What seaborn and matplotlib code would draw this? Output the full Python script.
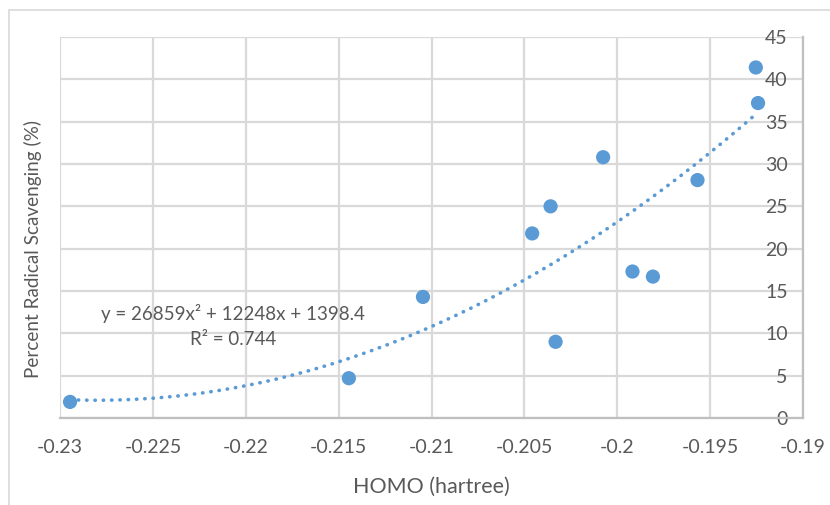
import numpy as np
import pandas as pd
import matplotlib
matplotlib.use("Agg")
import matplotlib.pyplot as plt
from matplotlib.patches import Rectangle
import seaborn as sns

# HOMO energies (hartree) and measured radical scavenging (%)
homo = [-0.22946, -0.21445, -0.21046, -0.20458, -0.20359, -0.20332,
        -0.20076, -0.19918, -0.19808, -0.19568, -0.19254, -0.19242]
scavenging = [1.9, 4.7, 14.3, 21.8, 25.0, 9.0,
              30.8, 17.3, 16.7, 28.1, 41.4, 37.2]

# Second-order polynomial trendline coefficients (a, b, c) and fit quality
trend_coef = [26859, 12248, 1398.4]
r_squared = 0.744

x_ticks = [-0.23, -0.225, -0.22, -0.215, -0.21, -0.205, -0.2, -0.195, -0.19]
x_tick_labels = ["-0.23", "-0.225", "-0.22", "-0.215", "-0.21", "-0.205", "-0.2", "-0.195", "-0.19"]
y_ticks = [0, 5, 10, 15, 20, 25, 30, 35, 40, 45]

df = pd.DataFrame({"HOMO": homo, "Scavenging": scavenging})

sns.set_theme(style="white")
plt.rcParams["font.family"] = ["Lato", "DejaVu Sans"]

text_color = "#595959"
grid_color = "#d9d9d9"
blue = "#5B9BD5"

fig = plt.figure(figsize=(8.3, 5.05), dpi=100)
fig.patch.set_facecolor("white")
ax = fig.add_axes([60 / 830, 87 / 505, 743 / 830, 381 / 505])

# outer chart frame
fig.add_artist(Rectangle((9 / 830, -0.05), 1.2, (505 - 10) / 505 + 0.05,
                         transform=fig.transFigure, fill=False,
                         edgecolor="#d9d9d9", linewidth=1.2, zorder=0))

# trendline from the stated polynomial
xs = np.linspace(min(homo), max(homo), 300)
ys = np.polyval(trend_coef, xs)
ax.plot(xs, ys, linestyle=(0, (0.1, 2.2)), dash_capstyle="round",
        color=blue, linewidth=2.6, zorder=2)

sns.scatterplot(data=df, x="HOMO", y="Scavenging", ax=ax, s=105,
                color=blue, edgecolor="none", linewidth=0, zorder=3)

ax.set_xlim(-0.23, -0.19)
ax.set_ylim(0, 45)
ax.set_xticks(x_ticks)
ax.set_xticklabels(x_tick_labels)
ax.set_yticks(y_ticks)

ax.grid(True, color=grid_color, linewidth=1.6, zorder=0)
ax.set_axisbelow(True)
for side in ["top", "left"]:
    ax.spines[side].set_visible(False)
ax.spines["bottom"].set_color("#bfbfbf")
ax.spines["bottom"].set_linewidth(1.6)
ax.spines["right"].set_color("#bfbfbf")
ax.spines["right"].set_linewidth(1.6)

# y tick labels sit just inside the right axis line
ax.yaxis.tick_right()
ax.tick_params(axis="y", length=0, pad=-11, labelsize=14, labelcolor=text_color)
for lbl in ax.get_yticklabels():
    lbl.set_horizontalalignment("right")
ax.tick_params(axis="x", length=0, pad=15, labelsize=14, labelcolor=text_color)

ax.set_xlabel("HOMO (hartree)", fontsize=15.5, color=text_color, labelpad=15)
ax.set_ylabel("")
fig.text(33 / 830, 1 - 249 / 505, "Percent Radical Scavenging (%)", rotation=90,
         ha="center", va="center", fontsize=13.6, color=text_color)

eq = "y = {:d}x\u00b2 + {:d}x + {}".format(trend_coef[0], trend_coef[1], trend_coef[2])
ax.text(-0.2207, 12.4, eq, ha="center", va="center", fontsize=13.5, color=text_color)
ax.text(-0.2207, 9.3, "R\u00b2 = {}".format(r_squared), ha="center", va="center",
        fontsize=13.5, color=text_color)

fig.savefig("out.png", dpi=100, facecolor="white")
